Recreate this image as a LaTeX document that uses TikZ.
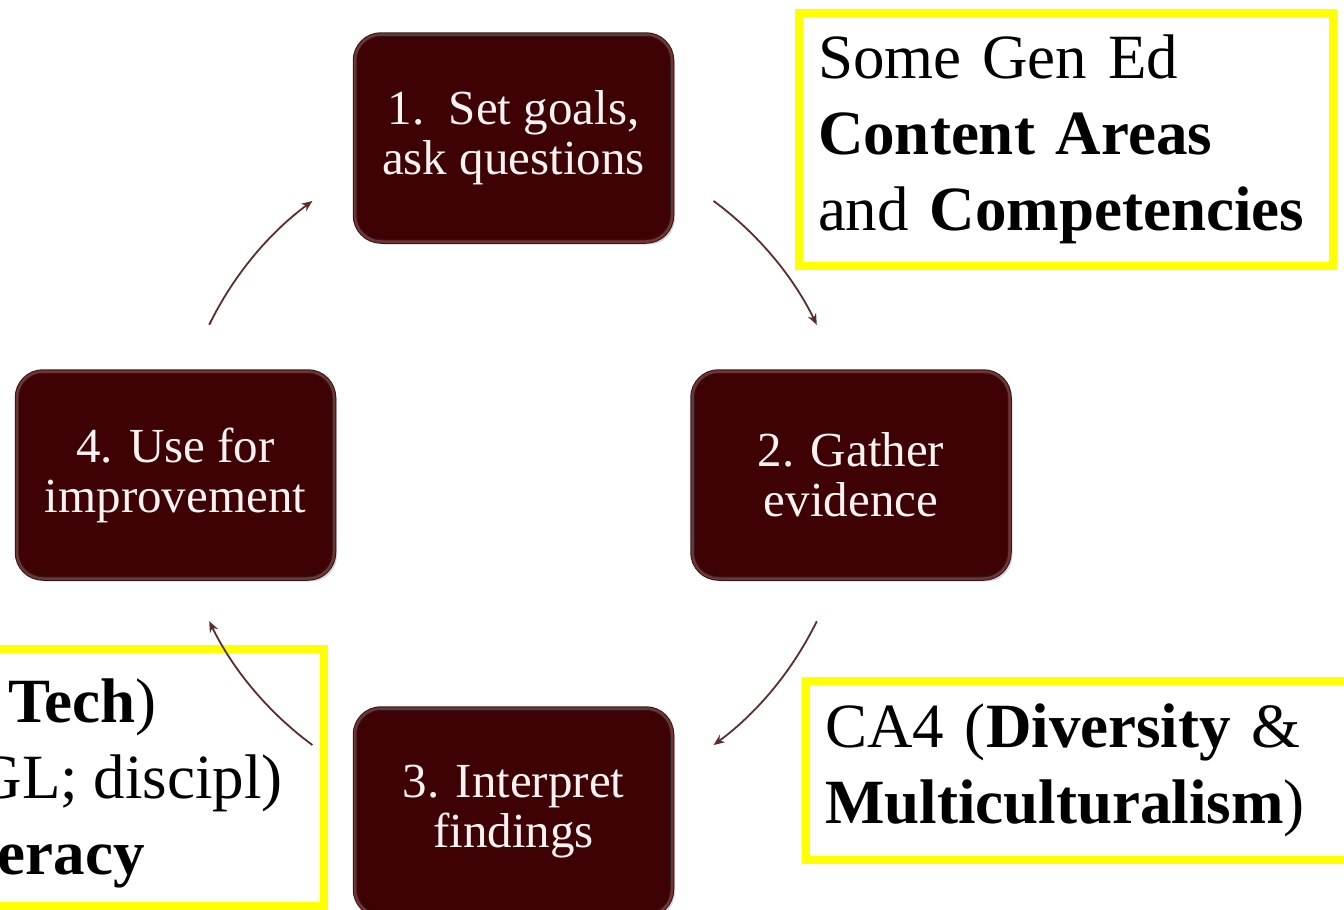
\documentclass[tikz,border=0pt]{standalone}
\usepackage{fontspec}
\setmainfont{Liberation Serif}
\usetikzlibrary{arrows.meta}
\usetikzlibrary{shadows}
\usepackage{xcolor}

\definecolor{stepred}{RGB}{62,2,4}
\definecolor{stepedge}{RGB}{35,28,28}
\definecolor{stepglow}{RGB}{120,48,48}
\definecolor{arrowred}{RGB}{92,45,45}
\definecolor{noteyellow}{RGB}{255,255,0}

\tikzset{
  stepbox/.style={rounded corners=26pt, fill=stepred, draw=stepedge, line width=1pt,
    double=stepglow, double distance=2.5pt, minimum width=317pt, minimum height=207pt,
    text=white!95!red, align=center, font=\fontsize{49}{50}\selectfont,
    drop shadow={opacity=0.3, shadow xshift=3pt, shadow yshift=-3pt}},
  notebox/.style={draw=noteyellow, line width=8pt, align=left, inner xsep=19pt,
    font=\fontsize{63}{76}\selectfont},
  notetext/.style={inner sep=0pt, font=\fontsize{63}{76}\selectfont},
  loopline/.style={arrowred, line width=1.8pt, -{Stealth[length=11pt,width=9pt]}}
}

\begin{document}
\begin{tikzpicture}[x=1pt,y=-1pt]
\clip (0,0) rectangle (1344,910);
% yellow notes
\node[notebox, text width=496pt, minimum width=534pt, minimum height=253pt] (areas) at (1066,139) {Some Gen Ed\\ \textbf{Content Areas}\\ and \textbf{Competencies}};
\node[notebox, text width=517pt, minimum width=553pt, minimum height=179pt] (diversity) at (1083.5,770) {CA4 (\textbf{Diversity} \&\\ \textbf{Multiculturalism})};
\node[notebox, minimum width=364pt, minimum height=257pt] (literacy) at (142,777.5) {};
\node[notetext, anchor=base east] (tech) at (157,722) {\textbf{Tech})};
\node[notetext, anchor=base east] (discipl) at (283,798) {GL; discipl)};
\node[notetext, anchor=base east] (eracy) at (145,874) {\textbf{eracy}};
% the four steps
\node[stepbox] (goals) at (513.5,138) {1.~~Set goals,\\ ask questions};
\node[stepbox] (gather) at (851,475) {2. Gather\\ evidence};
\node[stepbox] (interpret) at (513.5,812) {3. Interpret\\ findings};
\node[stepbox] (improve) at (175.5,475) {4. Use for\\ improvement};
% arrows round the cycle
\coordinate (hub) at (513,473);
\draw[loopline] (hub) ++(-53.6:338) arc[start angle=-53.6, end angle=-26, radius=338];
\draw[loopline] (hub) ++(26:338) arc[start angle=26, end angle=53.6, radius=338];
\draw[loopline] (hub) ++(126.4:338) arc[start angle=126.4, end angle=154, radius=338];
\draw[loopline] (hub) ++(206:338) arc[start angle=206, end angle=233.6, radius=338];
\end{tikzpicture}
\end{document}
